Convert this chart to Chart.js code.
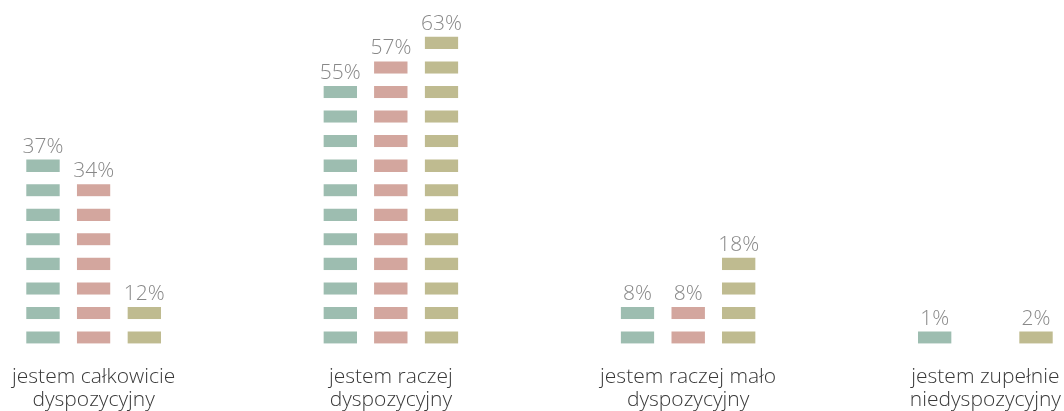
<!DOCTYPE html>
<html>
<head>
<meta charset="utf-8">
<script src="https://cdn.jsdelivr.net/npm/chart.js@4"></script>
<style>
  html, body { margin: 0; padding: 0; background: #fff; overflow: hidden; }
  #wrap { position: absolute; left: -55px; top: 0; width: 1189px; height: 434px; }
</style>
</head>
<body>
<div id="wrap"><canvas id="chart"></canvas></div>
<script>
// categories (the original chart is wider than the view, last label gets cut)
var categories = [
    ['jestem całkowicie', 'dyspozycyjny'],
    ['jestem raczej', 'dyspozycyjny'],
    ['jestem raczej mało', 'dyspozycyjny'],
    ['jestem zupełnie', 'niedyspozycyjny']
];
// percentages shown above the columns
var seriesA = [37, 55, 8, 1];
var seriesB = [34, 57, 8, 0];
var seriesC = [12, 63, 18, 2];
// number of blocks in each column, counted on the picture
var blocksA = [8, 11, 2, 1];
var blocksB = [7, 12, 2, 0];
var blocksC = [2, 13, 4, 1];

var colors = ['#9dbdb0', '#d3a69e', '#bfbb90'];
var values = [seriesA, seriesB, seriesC];
var blocks = [blocksA, blocksB, blocksC];

var datasets = [];
for (var s = 0; s < 3; s++) {
    var maxB = Math.max.apply(null, blocks[s]);
    for (var k = 1; k <= maxB; k++) {
        var d = [];
        for (var i = 0; i < categories.length; i++) {
            d.push(blocks[s][i] >= k ? 1 : null);
        }
        datasets.push({
            data: d,
            stack: 'S' + s,
            series: s,
            level: k,
            backgroundColor: colors[s],
            borderColor: '#ffffff',
            borderWidth: { top: 13, right: 0, bottom: 0, left: 0 },
            borderSkipped: false,
            categoryPercentage: 0.511,
            barPercentage: 0.665
        });
    }
}

const pctLabels = {
    id: 'pctLabels',
    afterDatasetsDraw(chart) {
        const ctx = chart.ctx;
        ctx.save();
        ctx.font = '300 21px "Open Sans"';
        ctx.fillStyle = '#888888';
        ctx.textAlign = 'center';
        ctx.textBaseline = 'alphabetic';
        chart.data.datasets.forEach(function(ds, di) {
            var meta = chart.getDatasetMeta(di);
            for (var i = 0; i < categories.length; i++) {
                if (blocks[ds.series][i] !== ds.level) continue;
                var el = meta.data[i];
                var yScale = chart.scales.y;
                var unit = yScale.getPixelForValue(0) - yScale.getPixelForValue(1);
                var top = el.y + Math.min(13, unit / 2);
                ctx.fillText(values[ds.series][i] + '%', el.x, top - 7);
            }
        });
        ctx.restore();
    }
};

new Chart(document.getElementById('chart').getContext('2d'), {
    type: 'bar',
    data: { labels: categories, datasets: datasets },
    options: {
        responsive: true,
        maintainAspectRatio: false,
        animation: false,
        layout: { padding: 0 },
        plugins: { legend: { display: false }, tooltip: { enabled: false } },
        scales: {
            x: {
                stacked: true,
                grid: { display: false, drawTicks: false },
                border: { display: false },
                ticks: {
                    autoSkip: false,
                    maxRotation: 0,
                    padding: 22,
                    color: '#383838',
                    font: { family: 'Open Sans', size: 21, weight: '300', lineHeight: 1.1 }
                }
            },
            y: {
                stacked: true,
                display: false,
                min: 0,
                max: 14
            }
        }
    },
    plugins: [pctLabels]
});
</script>
</body>
</html>
